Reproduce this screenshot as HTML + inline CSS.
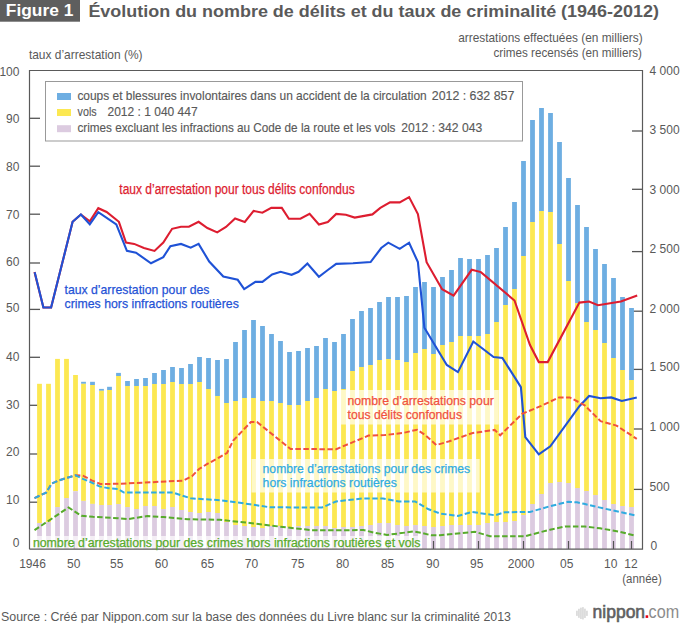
<!DOCTYPE html>
<html><head><meta charset="utf-8"><style>
html,body{margin:0;padding:0;background:#fff;}
svg{display:block;font-family:"Liberation Sans",sans-serif;}
</style></head><body>
<svg width="680" height="623" viewBox="0 0 680 623">
<rect width="680" height="623" fill="#fff"/>
<line x1="29.5" y1="118.3" x2="40" y2="118.3" stroke="#555" stroke-width="1.3"/>
<line x1="29.5" y1="166.2" x2="40" y2="166.2" stroke="#555" stroke-width="1.3"/>
<line x1="29.5" y1="214.2" x2="40" y2="214.2" stroke="#555" stroke-width="1.3"/>
<line x1="29.5" y1="263" x2="40" y2="263" stroke="#555" stroke-width="1.3"/>
<line x1="29.5" y1="309.4" x2="40" y2="309.4" stroke="#555" stroke-width="1.3"/>
<line x1="29.5" y1="357.3" x2="40" y2="357.3" stroke="#555" stroke-width="1.3"/>
<line x1="29.5" y1="405.3" x2="40" y2="405.3" stroke="#555" stroke-width="1.3"/>
<line x1="29.5" y1="454" x2="40" y2="454" stroke="#555" stroke-width="1.3"/>
<line x1="29.5" y1="502.2" x2="40" y2="502.2" stroke="#555" stroke-width="1.3"/>
<line x1="632" y1="131" x2="642.5" y2="131" stroke="#555" stroke-width="1.3"/>
<line x1="632" y1="189.3" x2="642.5" y2="189.3" stroke="#555" stroke-width="1.3"/>
<line x1="632" y1="251.6" x2="642.5" y2="251.6" stroke="#555" stroke-width="1.3"/>
<line x1="632" y1="311.2" x2="642.5" y2="311.2" stroke="#555" stroke-width="1.3"/>
<line x1="632" y1="369.4" x2="642.5" y2="369.4" stroke="#555" stroke-width="1.3"/>
<line x1="632" y1="429" x2="642.5" y2="429" stroke="#555" stroke-width="1.3"/>
<line x1="632" y1="489.4" x2="642.5" y2="489.4" stroke="#555" stroke-width="1.3"/>
<rect x="37.1" y="383.8" width="4.8" height="139.2" fill="#fce852"/>
<rect x="37.1" y="523" width="4.8" height="26" fill="#dccbe0"/>
<rect x="46.1" y="383.8" width="4.8" height="138.2" fill="#fce852"/>
<rect x="46.1" y="522" width="4.8" height="27" fill="#dccbe0"/>
<rect x="55.1" y="358.9" width="4.8" height="148.1" fill="#fce852"/>
<rect x="55.1" y="507" width="4.8" height="42" fill="#dccbe0"/>
<rect x="64.1" y="358.9" width="4.8" height="139.1" fill="#fce852"/>
<rect x="64.1" y="498" width="4.8" height="51" fill="#dccbe0"/>
<rect x="73.1" y="375" width="4.8" height="116.2" fill="#fce852"/>
<rect x="73.1" y="491.2" width="4.8" height="57.8" fill="#dccbe0"/>
<rect x="81.1" y="381.8" width="4.8" height="2" fill="#6eaee2"/>
<rect x="81.1" y="383.8" width="4.8" height="117.1" fill="#fce852"/>
<rect x="81.1" y="500.9" width="4.8" height="48.1" fill="#dccbe0"/>
<rect x="90.1" y="381.8" width="4.8" height="3.2" fill="#6eaee2"/>
<rect x="90.1" y="385" width="4.8" height="118.9" fill="#fce852"/>
<rect x="90.1" y="503.9" width="4.8" height="45.1" fill="#dccbe0"/>
<rect x="99.1" y="388.9" width="4.8" height="1.9" fill="#6eaee2"/>
<rect x="99.1" y="390.8" width="4.8" height="114.2" fill="#fce852"/>
<rect x="99.1" y="505" width="4.8" height="44" fill="#dccbe0"/>
<rect x="107.1" y="386.8" width="4.8" height="3.2" fill="#6eaee2"/>
<rect x="107.1" y="390" width="4.8" height="115" fill="#fce852"/>
<rect x="107.1" y="505" width="4.8" height="44" fill="#dccbe0"/>
<rect x="116.1" y="372.9" width="4.8" height="3.1" fill="#6eaee2"/>
<rect x="116.1" y="376" width="4.8" height="128" fill="#fce852"/>
<rect x="116.1" y="504" width="4.8" height="45" fill="#dccbe0"/>
<rect x="125.1" y="381" width="4.8" height="5" fill="#6eaee2"/>
<rect x="125.1" y="386" width="4.8" height="121" fill="#fce852"/>
<rect x="125.1" y="507" width="4.8" height="42" fill="#dccbe0"/>
<rect x="134.1" y="379" width="4.8" height="7" fill="#6eaee2"/>
<rect x="134.1" y="386" width="4.8" height="123" fill="#fce852"/>
<rect x="134.1" y="509" width="4.8" height="40" fill="#dccbe0"/>
<rect x="143.1" y="378" width="4.8" height="8" fill="#6eaee2"/>
<rect x="143.1" y="386" width="4.8" height="120" fill="#fce852"/>
<rect x="143.1" y="506" width="4.8" height="43" fill="#dccbe0"/>
<rect x="152.1" y="373" width="4.8" height="11" fill="#6eaee2"/>
<rect x="152.1" y="384" width="4.8" height="122" fill="#fce852"/>
<rect x="152.1" y="506" width="4.8" height="43" fill="#dccbe0"/>
<rect x="161.1" y="370" width="4.8" height="14" fill="#6eaee2"/>
<rect x="161.1" y="384" width="4.8" height="125" fill="#fce852"/>
<rect x="161.1" y="509" width="4.8" height="40" fill="#dccbe0"/>
<rect x="170.1" y="367" width="4.8" height="15" fill="#6eaee2"/>
<rect x="170.1" y="382" width="4.8" height="125" fill="#fce852"/>
<rect x="170.1" y="507" width="4.8" height="42" fill="#dccbe0"/>
<rect x="179.1" y="368" width="4.8" height="16" fill="#6eaee2"/>
<rect x="179.1" y="384" width="4.8" height="126" fill="#fce852"/>
<rect x="179.1" y="510" width="4.8" height="39" fill="#dccbe0"/>
<rect x="188.1" y="364" width="4.8" height="20" fill="#6eaee2"/>
<rect x="188.1" y="384" width="4.8" height="128" fill="#fce852"/>
<rect x="188.1" y="512" width="4.8" height="37" fill="#dccbe0"/>
<rect x="197.1" y="357" width="4.8" height="25" fill="#6eaee2"/>
<rect x="197.1" y="382" width="4.8" height="131" fill="#fce852"/>
<rect x="197.1" y="513" width="4.8" height="36" fill="#dccbe0"/>
<rect x="206.1" y="358" width="4.8" height="31" fill="#6eaee2"/>
<rect x="206.1" y="389" width="4.8" height="123" fill="#fce852"/>
<rect x="206.1" y="512" width="4.8" height="37" fill="#dccbe0"/>
<rect x="215.1" y="360" width="4.8" height="36" fill="#6eaee2"/>
<rect x="215.1" y="396" width="4.8" height="117" fill="#fce852"/>
<rect x="215.1" y="513" width="4.8" height="36" fill="#dccbe0"/>
<rect x="224.1" y="359" width="4.8" height="44" fill="#6eaee2"/>
<rect x="224.1" y="403" width="4.8" height="119" fill="#fce852"/>
<rect x="224.1" y="522" width="4.8" height="27" fill="#dccbe0"/>
<rect x="233.1" y="342" width="4.8" height="59" fill="#6eaee2"/>
<rect x="233.1" y="401" width="4.8" height="124" fill="#fce852"/>
<rect x="233.1" y="525" width="4.8" height="24" fill="#dccbe0"/>
<rect x="242.1" y="330" width="4.8" height="68" fill="#6eaee2"/>
<rect x="242.1" y="398" width="4.8" height="128" fill="#fce852"/>
<rect x="242.1" y="526" width="4.8" height="23" fill="#dccbe0"/>
<rect x="251.1" y="320" width="4.8" height="78" fill="#6eaee2"/>
<rect x="251.1" y="398" width="4.8" height="129" fill="#fce852"/>
<rect x="251.1" y="527" width="4.8" height="22" fill="#dccbe0"/>
<rect x="260.1" y="326" width="4.8" height="75" fill="#6eaee2"/>
<rect x="260.1" y="401" width="4.8" height="127" fill="#fce852"/>
<rect x="260.1" y="528" width="4.8" height="21" fill="#dccbe0"/>
<rect x="269.1" y="334" width="4.8" height="67" fill="#6eaee2"/>
<rect x="269.1" y="401" width="4.8" height="125" fill="#fce852"/>
<rect x="269.1" y="526" width="4.8" height="23" fill="#dccbe0"/>
<rect x="278.1" y="341" width="4.8" height="62" fill="#6eaee2"/>
<rect x="278.1" y="403" width="4.8" height="123" fill="#fce852"/>
<rect x="278.1" y="526" width="4.8" height="23" fill="#dccbe0"/>
<rect x="287.1" y="352" width="4.8" height="53" fill="#6eaee2"/>
<rect x="287.1" y="405" width="4.8" height="122" fill="#fce852"/>
<rect x="287.1" y="527" width="4.8" height="22" fill="#dccbe0"/>
<rect x="296.1" y="351" width="4.8" height="54" fill="#6eaee2"/>
<rect x="296.1" y="405" width="4.8" height="121" fill="#fce852"/>
<rect x="296.1" y="526" width="4.8" height="23" fill="#dccbe0"/>
<rect x="305.1" y="348" width="4.8" height="53" fill="#6eaee2"/>
<rect x="305.1" y="401" width="4.8" height="125" fill="#fce852"/>
<rect x="305.1" y="526" width="4.8" height="23" fill="#dccbe0"/>
<rect x="314.1" y="346" width="4.8" height="52" fill="#6eaee2"/>
<rect x="314.1" y="398" width="4.8" height="128" fill="#fce852"/>
<rect x="314.1" y="526" width="4.8" height="23" fill="#dccbe0"/>
<rect x="323.1" y="338" width="4.8" height="51" fill="#6eaee2"/>
<rect x="323.1" y="389" width="4.8" height="137" fill="#fce852"/>
<rect x="323.1" y="526" width="4.8" height="23" fill="#dccbe0"/>
<rect x="332.1" y="342" width="4.8" height="49" fill="#6eaee2"/>
<rect x="332.1" y="391" width="4.8" height="137" fill="#fce852"/>
<rect x="332.1" y="528" width="4.8" height="21" fill="#dccbe0"/>
<rect x="341.1" y="334" width="4.8" height="55" fill="#6eaee2"/>
<rect x="341.1" y="389" width="4.8" height="138" fill="#fce852"/>
<rect x="341.1" y="527" width="4.8" height="22" fill="#dccbe0"/>
<rect x="350.1" y="319" width="4.8" height="52" fill="#6eaee2"/>
<rect x="350.1" y="371" width="4.8" height="156" fill="#fce852"/>
<rect x="350.1" y="527" width="4.8" height="22" fill="#dccbe0"/>
<rect x="359.1" y="311" width="4.8" height="56" fill="#6eaee2"/>
<rect x="359.1" y="367" width="4.8" height="159" fill="#fce852"/>
<rect x="359.1" y="526" width="4.8" height="23" fill="#dccbe0"/>
<rect x="368.1" y="308" width="4.8" height="57" fill="#6eaee2"/>
<rect x="368.1" y="365" width="4.8" height="160" fill="#fce852"/>
<rect x="368.1" y="525" width="4.8" height="24" fill="#dccbe0"/>
<rect x="377.1" y="302" width="4.8" height="58" fill="#6eaee2"/>
<rect x="377.1" y="360" width="4.8" height="163" fill="#fce852"/>
<rect x="377.1" y="523" width="4.8" height="26" fill="#dccbe0"/>
<rect x="386.1" y="297" width="4.8" height="62" fill="#6eaee2"/>
<rect x="386.1" y="359" width="4.8" height="164" fill="#fce852"/>
<rect x="386.1" y="523" width="4.8" height="26" fill="#dccbe0"/>
<rect x="395.1" y="297" width="4.8" height="63" fill="#6eaee2"/>
<rect x="395.1" y="360" width="4.8" height="165" fill="#fce852"/>
<rect x="395.1" y="525" width="4.8" height="24" fill="#dccbe0"/>
<rect x="404.1" y="296" width="4.8" height="66" fill="#6eaee2"/>
<rect x="404.1" y="362" width="4.8" height="164" fill="#fce852"/>
<rect x="404.1" y="526" width="4.8" height="23" fill="#dccbe0"/>
<rect x="413.1" y="287" width="4.8" height="66" fill="#6eaee2"/>
<rect x="413.1" y="353" width="4.8" height="172" fill="#fce852"/>
<rect x="413.1" y="525" width="4.8" height="24" fill="#dccbe0"/>
<rect x="422.1" y="282" width="4.8" height="67" fill="#6eaee2"/>
<rect x="422.1" y="349" width="4.8" height="177" fill="#fce852"/>
<rect x="422.1" y="526" width="4.8" height="23" fill="#dccbe0"/>
<rect x="431.1" y="287" width="4.8" height="67" fill="#6eaee2"/>
<rect x="431.1" y="354" width="4.8" height="173" fill="#fce852"/>
<rect x="431.1" y="527" width="4.8" height="22" fill="#dccbe0"/>
<rect x="440.1" y="277" width="4.8" height="68" fill="#6eaee2"/>
<rect x="440.1" y="345" width="4.8" height="181" fill="#fce852"/>
<rect x="440.1" y="526" width="4.8" height="23" fill="#dccbe0"/>
<rect x="449.1" y="270" width="4.8" height="72" fill="#6eaee2"/>
<rect x="449.1" y="342" width="4.8" height="183" fill="#fce852"/>
<rect x="449.1" y="525" width="4.8" height="24" fill="#dccbe0"/>
<rect x="458.1" y="258" width="4.8" height="78" fill="#6eaee2"/>
<rect x="458.1" y="336" width="4.8" height="189" fill="#fce852"/>
<rect x="458.1" y="525" width="4.8" height="24" fill="#dccbe0"/>
<rect x="467.1" y="259" width="4.8" height="77" fill="#6eaee2"/>
<rect x="467.1" y="336" width="4.8" height="189" fill="#fce852"/>
<rect x="467.1" y="525" width="4.8" height="24" fill="#dccbe0"/>
<rect x="476.1" y="259" width="4.8" height="77" fill="#6eaee2"/>
<rect x="476.1" y="336" width="4.8" height="189" fill="#fce852"/>
<rect x="476.1" y="525" width="4.8" height="24" fill="#dccbe0"/>
<rect x="485.1" y="255" width="4.8" height="79" fill="#6eaee2"/>
<rect x="485.1" y="334" width="4.8" height="189" fill="#fce852"/>
<rect x="485.1" y="523" width="4.8" height="26" fill="#dccbe0"/>
<rect x="494.1" y="248" width="4.8" height="74" fill="#6eaee2"/>
<rect x="494.1" y="322" width="4.8" height="200" fill="#fce852"/>
<rect x="494.1" y="522" width="4.8" height="27" fill="#dccbe0"/>
<rect x="503.1" y="227" width="4.8" height="78" fill="#6eaee2"/>
<rect x="503.1" y="305" width="4.8" height="217" fill="#fce852"/>
<rect x="503.1" y="522" width="4.8" height="27" fill="#dccbe0"/>
<rect x="512.1" y="202" width="4.8" height="87" fill="#6eaee2"/>
<rect x="512.1" y="289" width="4.8" height="232" fill="#fce852"/>
<rect x="512.1" y="521" width="4.8" height="28" fill="#dccbe0"/>
<rect x="521.1" y="161" width="4.8" height="95" fill="#6eaee2"/>
<rect x="521.1" y="256" width="4.8" height="259" fill="#fce852"/>
<rect x="521.1" y="515" width="4.8" height="34" fill="#dccbe0"/>
<rect x="530.1" y="120" width="4.8" height="102" fill="#6eaee2"/>
<rect x="530.1" y="222" width="4.8" height="282" fill="#fce852"/>
<rect x="530.1" y="504" width="4.8" height="45" fill="#dccbe0"/>
<rect x="539.1" y="108" width="4.8" height="103" fill="#6eaee2"/>
<rect x="539.1" y="211" width="4.8" height="283" fill="#fce852"/>
<rect x="539.1" y="494" width="4.8" height="55" fill="#dccbe0"/>
<rect x="548.1" y="113" width="4.8" height="99" fill="#6eaee2"/>
<rect x="548.1" y="212" width="4.8" height="271" fill="#fce852"/>
<rect x="548.1" y="483" width="4.8" height="66" fill="#dccbe0"/>
<rect x="557.1" y="142" width="4.8" height="102" fill="#6eaee2"/>
<rect x="557.1" y="244" width="4.8" height="238" fill="#fce852"/>
<rect x="557.1" y="482" width="4.8" height="67" fill="#dccbe0"/>
<rect x="566.1" y="178" width="4.8" height="103" fill="#6eaee2"/>
<rect x="566.1" y="281" width="4.8" height="202" fill="#fce852"/>
<rect x="566.1" y="483" width="4.8" height="66" fill="#dccbe0"/>
<rect x="575.1" y="205" width="4.8" height="98" fill="#6eaee2"/>
<rect x="575.1" y="303" width="4.8" height="185" fill="#fce852"/>
<rect x="575.1" y="488" width="4.8" height="61" fill="#dccbe0"/>
<rect x="584.1" y="227" width="4.8" height="95" fill="#6eaee2"/>
<rect x="584.1" y="322" width="4.8" height="169" fill="#fce852"/>
<rect x="584.1" y="491" width="4.8" height="58" fill="#dccbe0"/>
<rect x="593.1" y="249" width="4.8" height="81" fill="#6eaee2"/>
<rect x="593.1" y="330" width="4.8" height="165" fill="#fce852"/>
<rect x="593.1" y="495" width="4.8" height="54" fill="#dccbe0"/>
<rect x="602.1" y="264" width="4.8" height="79" fill="#6eaee2"/>
<rect x="602.1" y="343" width="4.8" height="157" fill="#fce852"/>
<rect x="602.1" y="500" width="4.8" height="49" fill="#dccbe0"/>
<rect x="611.1" y="278" width="4.8" height="80" fill="#6eaee2"/>
<rect x="611.1" y="358" width="4.8" height="146" fill="#fce852"/>
<rect x="611.1" y="504" width="4.8" height="45" fill="#dccbe0"/>
<rect x="620.1" y="297" width="4.8" height="73" fill="#6eaee2"/>
<rect x="620.1" y="370" width="4.8" height="136" fill="#fce852"/>
<rect x="620.1" y="506" width="4.8" height="43" fill="#dccbe0"/>
<rect x="629.1" y="308" width="4.8" height="72" fill="#6eaee2"/>
<rect x="629.1" y="380" width="4.8" height="127" fill="#fce852"/>
<rect x="629.1" y="507" width="4.8" height="42" fill="#dccbe0"/>
<line x1="74.3" y1="541" x2="74.3" y2="549" stroke="#555" stroke-width="1.2"/>
<line x1="118.5" y1="541" x2="118.5" y2="549" stroke="#555" stroke-width="1.2"/>
<line x1="163.5" y1="541" x2="163.5" y2="549" stroke="#555" stroke-width="1.2"/>
<line x1="208.5" y1="541" x2="208.5" y2="549" stroke="#555" stroke-width="1.2"/>
<line x1="253.5" y1="541" x2="253.5" y2="549" stroke="#555" stroke-width="1.2"/>
<line x1="298.5" y1="541" x2="298.5" y2="549" stroke="#555" stroke-width="1.2"/>
<line x1="343.5" y1="541" x2="343.5" y2="549" stroke="#555" stroke-width="1.2"/>
<line x1="388.5" y1="541" x2="388.5" y2="549" stroke="#555" stroke-width="1.2"/>
<line x1="433.5" y1="541" x2="433.5" y2="549" stroke="#555" stroke-width="1.2"/>
<line x1="478.5" y1="541" x2="478.5" y2="549" stroke="#555" stroke-width="1.2"/>
<line x1="523.5" y1="541" x2="523.5" y2="549" stroke="#555" stroke-width="1.2"/>
<line x1="568.5" y1="541" x2="568.5" y2="549" stroke="#555" stroke-width="1.2"/>
<line x1="613.5" y1="541" x2="613.5" y2="549" stroke="#555" stroke-width="1.2"/>
<line x1="631.5" y1="541" x2="631.5" y2="549" stroke="#555" stroke-width="1.2"/>
<rect x="30" y="536" width="391.6" height="13" fill="#fff" fill-opacity="0.68"/>
<rect x="340.5" y="390" width="158.3" height="34.5" fill="#fff" fill-opacity="0.68"/>
<rect x="251.5" y="459" width="228.2" height="33.5" fill="#fff" fill-opacity="0.68"/>
<polyline points="34.5,272 43.4,307.5 51.1,307.5 72.6,221.8 80.9,214.5 89.8,221.4 98.3,208.2 106.6,212 118.9,221.8 126,242.6 134.2,243.9 143.9,247.9 154.5,250.9 163.3,242.6 172.1,228.8 181,226.7 188.9,226.7 198.6,221.8 207.4,228 217.2,232.4 226,227 235.1,218.5 244.8,222 253.6,210.9 262.4,212.7 271.3,207.9 281.8,207.9 288.9,218.8 300.4,218.8 309.6,213.9 318.9,224.5 327.8,222 336.2,213.9 345.9,214.8 354.7,217.6 372.4,214.4 380.3,207.9 390,202.4 399.7,202.4 409.1,197.1 417.9,214.1 426.6,262.2 442.1,289.2 453.6,295.6 471.7,269.8 480.9,272.1 514.5,300.5 530,345 538.8,362.1 547.7,362.1 579.4,302.6 589.1,301.5 598,305.2 620.9,301.5 637.2,295.5" fill="none" stroke="#dd1d30" stroke-width="2.1" stroke-linejoin="miter"/>
<polyline points="34.7,272.3 43.4,307.5 51.1,307.5 72.6,221.8 80.9,214.5 89.8,224.4 98.3,212.1 116.3,224.4 126.9,250.9 136,252.7 151,263.3 163.3,257.1 170.4,246.1 181,243.9 190.7,247.7 198.6,243.9 209.2,261.5 223.3,276.5 237.7,279.8 244.2,289.1 255.4,281.9 262.4,281.9 272.1,274.5 280.6,271.8 291.6,274.8 298.6,271.8 307.4,263.5 318.9,276.8 327.8,270 336.2,263.9 353,263.3 370.6,262.1 381.2,248 388.3,242.7 399.7,248.9 409.1,242.7 417.9,262.1 424.4,327.7 446.8,365 457.9,372.1 473.3,341.5 493.6,357.1 502.4,358 520.9,387.1 525.3,437.2 538.8,454.4 550.3,446.3 579.4,406.2 589.1,396 600.6,398.2 611.2,397.4 621.8,400.9 636.8,397.4" fill="none" stroke="#1f52d6" stroke-width="2.1" stroke-linejoin="miter"/>
<polyline points="34.5,530.2 68.5,507.5 81.5,515.8 93,516.8 118,518.2 127.8,519.2 147.2,516 163.4,517.1 187.7,519.2 220,519.8 250,523 283,527 312,530.2 340,530.3 363.5,530 374,532.6 387,534.9 399,533.4 413.5,531.5 422,532.9 431,535.3 440,535.3 475,531.8 490,536.2 525,536.2 550,529.7 565,526.5 585,526.5 600,528.3 620,531.8 636,535.9" fill="none" stroke="#57ab2b" stroke-width="2" stroke-dasharray="5.5 2.5"/>
<polyline points="34.5,498.1 46.1,492.6 51.8,483.5 58.3,480.6 65.6,478.2 75.7,475.3 82.9,475.7 91.6,480.3 100.3,484 120,483.8 183,480.6 192,476.2 199,469 206.5,464.4 220,457 227,453 233.2,440.6 250.9,422 257,422 290.6,449 336.2,449.2 368.5,435.6 384.7,435.1 404.1,432.7 417.1,429.7 425,434.8 436.3,445 449.3,441.3 471.9,433.2 494.6,429.9 500.2,435.3 522.1,413.8 540.6,406.2 559.1,397.4 569.7,397.4 584.7,405.3 600.6,421.2 616.5,425.6 636.8,438.9" fill="none" stroke="#f0513d" stroke-width="2" stroke-dasharray="5.5 2.5"/>
<polyline points="34.5,498.1 46.1,492.6 51.8,483.5 58.3,480.6 65.6,478.2 75.7,475.3 82.9,478.9 91.6,482.5 99.5,486.4 108.9,488.3 118,489 124,492.6 173,492.6 190.6,498.3 220,500.2 250,504.2 270,507.3 322,507.5 336,501.5 362,498.5 383,498.5 399,501.5 415,501.5 428,509 440,513.5 458,515.9 472,512 495,515.3 505,512.2 530,512 550,506.2 568,501.8 577,502.3 584,503.8 599,507.4 613.5,510.6 636.3,515.7" fill="none" stroke="#2fabe0" stroke-width="2" stroke-dasharray="5.5 2.5"/>
<polyline points="29.5,549.2 29.5,70.5 642.5,70.5 642.5,549.2 29.5,549.2" fill="none" stroke="#5a5a5a" stroke-width="1.2"/>
<rect x="45.5" y="81.5" width="477" height="59.5" fill="#fff" stroke="#999" stroke-width="1"/>
<rect x="57" y="93" width="14" height="7" fill="#6eaee2"/>
<rect x="57" y="109" width="14" height="7" fill="#fce852"/>
<rect x="57" y="125.2" width="14" height="7" fill="#dccbe0"/>
<text x="77.4" y="99.6" font-size="13" fill="#595959" font-weight="normal" text-anchor="start" textLength="349.3" lengthAdjust="spacingAndGlyphs" stroke="#595959" stroke-width="0.15">coups et blessures involontaires dans un accident de la circulation</text>
<text x="431.8" y="99.6" font-size="13" fill="#595959" font-weight="normal" text-anchor="start" textLength="82.5" lengthAdjust="spacingAndGlyphs" stroke="#595959" stroke-width="0.15">2012 : 632 857</text>
<text x="77.6" y="116.4" font-size="13" fill="#595959" font-weight="normal" text-anchor="start" textLength="19" lengthAdjust="spacingAndGlyphs" stroke="#595959" stroke-width="0.15">vols</text>
<text x="107.5" y="116.4" font-size="13" fill="#595959" font-weight="normal" text-anchor="start" textLength="90.1" lengthAdjust="spacingAndGlyphs" stroke="#595959" stroke-width="0.15">2012 : 1 040 447</text>
<text x="77.4" y="132.3" font-size="13" fill="#595959" font-weight="normal" text-anchor="start" textLength="318" lengthAdjust="spacingAndGlyphs" stroke="#595959" stroke-width="0.15">crimes excluant les infractions au Code de la route et les vols</text>
<text x="401.3" y="132.3" font-size="13" fill="#595959" font-weight="normal" text-anchor="start" textLength="80.9" lengthAdjust="spacingAndGlyphs" stroke="#595959" stroke-width="0.15">2012 : 342 043</text>
<text x="28.9" y="58.8" font-size="13.5" fill="#595959" font-weight="normal" text-anchor="start" textLength="113.6" lengthAdjust="spacingAndGlyphs">taux d’arrestation (%)</text>
<text x="642.6" y="42.3" font-size="13" fill="#595959" font-weight="normal" text-anchor="end" textLength="184.4" lengthAdjust="spacingAndGlyphs">arrestations effectuées (en milliers)</text>
<text x="642" y="57.1" font-size="13" fill="#595959" font-weight="normal" text-anchor="end" textLength="148.5" lengthAdjust="spacingAndGlyphs">crimes recensés (en milliers)</text>
<text x="19.4" y="75.5" font-size="12" fill="#595959" font-weight="normal" text-anchor="end">100</text>
<text x="19.4" y="123" font-size="12" fill="#595959" font-weight="normal" text-anchor="end">90</text>
<text x="19.4" y="170.9" font-size="12" fill="#595959" font-weight="normal" text-anchor="end">80</text>
<text x="19.4" y="218.7" font-size="12" fill="#595959" font-weight="normal" text-anchor="end">70</text>
<text x="19.4" y="266" font-size="12" fill="#595959" font-weight="normal" text-anchor="end">60</text>
<text x="19.4" y="312" font-size="12" fill="#595959" font-weight="normal" text-anchor="end">50</text>
<text x="19.4" y="360.5" font-size="12" fill="#595959" font-weight="normal" text-anchor="end">40</text>
<text x="19.4" y="408.5" font-size="12" fill="#595959" font-weight="normal" text-anchor="end">30</text>
<text x="19.4" y="456.3" font-size="12" fill="#595959" font-weight="normal" text-anchor="end">20</text>
<text x="19.4" y="504.1" font-size="12" fill="#595959" font-weight="normal" text-anchor="end">10</text>
<text x="19.4" y="546.9" font-size="12" fill="#595959" font-weight="normal" text-anchor="end">0</text>
<text x="649.6" y="74.6" font-size="12" fill="#595959" font-weight="normal" text-anchor="start" textLength="30" lengthAdjust="spacingAndGlyphs">4 000</text>
<text x="649.6" y="134.3" font-size="12" fill="#595959" font-weight="normal" text-anchor="start" textLength="30" lengthAdjust="spacingAndGlyphs">3 500</text>
<text x="649.6" y="193.8" font-size="12" fill="#595959" font-weight="normal" text-anchor="start" textLength="30" lengthAdjust="spacingAndGlyphs">3 000</text>
<text x="649.6" y="253.3" font-size="12" fill="#595959" font-weight="normal" text-anchor="start" textLength="30" lengthAdjust="spacingAndGlyphs">2 500</text>
<text x="649.6" y="312.5" font-size="12" fill="#595959" font-weight="normal" text-anchor="start" textLength="30" lengthAdjust="spacingAndGlyphs">2 000</text>
<text x="649.6" y="370.7" font-size="12" fill="#595959" font-weight="normal" text-anchor="start" textLength="30" lengthAdjust="spacingAndGlyphs">1 500</text>
<text x="649.6" y="431.3" font-size="12" fill="#595959" font-weight="normal" text-anchor="start" textLength="30" lengthAdjust="spacingAndGlyphs">1 000</text>
<text x="649.6" y="490.6" font-size="12" fill="#595959" font-weight="normal" text-anchor="start">500</text>
<text x="650.6" y="549.8" font-size="12" fill="#595959" font-weight="normal" text-anchor="start">0</text>
<text x="32.5" y="567.5" font-size="12" fill="#595959" font-weight="normal" text-anchor="middle">1946</text>
<text x="73.7" y="567.5" font-size="12" fill="#595959" font-weight="normal" text-anchor="middle">50</text>
<text x="116.8" y="567.5" font-size="12" fill="#595959" font-weight="normal" text-anchor="middle">55</text>
<text x="161.5" y="567.5" font-size="12" fill="#595959" font-weight="normal" text-anchor="middle">60</text>
<text x="207.4" y="567.5" font-size="12" fill="#595959" font-weight="normal" text-anchor="middle">65</text>
<text x="251.5" y="567.5" font-size="12" fill="#595959" font-weight="normal" text-anchor="middle">70</text>
<text x="297.7" y="567.5" font-size="12" fill="#595959" font-weight="normal" text-anchor="middle">75</text>
<text x="342.6" y="567.5" font-size="12" fill="#595959" font-weight="normal" text-anchor="middle">80</text>
<text x="387.6" y="567.5" font-size="12" fill="#595959" font-weight="normal" text-anchor="middle">85</text>
<text x="432.7" y="567.5" font-size="12" fill="#595959" font-weight="normal" text-anchor="middle">90</text>
<text x="476.8" y="567.5" font-size="12" fill="#595959" font-weight="normal" text-anchor="middle">95</text>
<text x="521.1" y="567.5" font-size="12" fill="#595959" font-weight="normal" text-anchor="middle">2000</text>
<text x="566.8" y="567.5" font-size="12" fill="#595959" font-weight="normal" text-anchor="middle">05</text>
<text x="610.7" y="567.5" font-size="12" fill="#595959" font-weight="normal" text-anchor="middle">10</text>
<text x="631" y="567.5" font-size="12" fill="#595959" font-weight="normal" text-anchor="middle">12</text>
<text x="642" y="583" font-size="12" fill="#595959" font-weight="normal" text-anchor="middle" textLength="39.4" lengthAdjust="spacingAndGlyphs">(année)</text>
<text x="119.3" y="193.6" font-size="14" fill="#dd1d30" font-weight="normal" text-anchor="start" textLength="235.4" lengthAdjust="spacingAndGlyphs" stroke="#dd1d30" stroke-width="0.25">taux d’arrestation pour tous délits confondus</text>
<text x="64.5" y="293.8" font-size="13.5" fill="#1f52d6" font-weight="normal" text-anchor="start" textLength="144.9" lengthAdjust="spacingAndGlyphs" stroke="#1f52d6" stroke-width="0.25">taux d’arrestation pour des</text>
<text x="64.5" y="308.2" font-size="13.5" fill="#1f52d6" font-weight="normal" text-anchor="start" textLength="174.3" lengthAdjust="spacingAndGlyphs" stroke="#1f52d6" stroke-width="0.25">crimes hors infractions routières</text>
<text x="347.5" y="404.7" font-size="12.5" fill="#f0513d" font-weight="normal" text-anchor="start" textLength="146.3" lengthAdjust="spacingAndGlyphs" stroke="#f0513d" stroke-width="0.25">nombre d’arrestations pour</text>
<text x="347.5" y="419.2" font-size="12.5" fill="#f0513d" font-weight="normal" text-anchor="start" textLength="114.5" lengthAdjust="spacingAndGlyphs" stroke="#f0513d" stroke-width="0.25">tous délits confondus</text>
<text x="262.6" y="472.8" font-size="13" fill="#2fabe0" font-weight="normal" text-anchor="start" textLength="207.6" lengthAdjust="spacingAndGlyphs" stroke="#2fabe0" stroke-width="0.25">nombre d’arrestations pour des crimes</text>
<text x="262.6" y="487.4" font-size="13" fill="#2fabe0" font-weight="normal" text-anchor="start" textLength="134.2" lengthAdjust="spacingAndGlyphs" stroke="#2fabe0" stroke-width="0.25">hors infractions routières</text>
<text x="32.9" y="547.1" font-size="12" fill="#57ab2b" font-weight="normal" text-anchor="start" textLength="387.5" lengthAdjust="spacingAndGlyphs" stroke="#57ab2b" stroke-width="0.25">nombre d’arrestations pour des crimes hors infractions routières et vols</text>
<rect x="0" y="0" width="80" height="21.7" fill="#5e5e5e"/>
<text x="5.8" y="15.5" font-size="16" fill="#fff" font-weight="bold" text-anchor="start" textLength="67.5" lengthAdjust="spacingAndGlyphs">Figure 1</text>
<text x="88.4" y="17.4" font-size="16" fill="#5a5a5a" font-weight="bold" text-anchor="start" textLength="570.5" lengthAdjust="spacingAndGlyphs">Évolution du nombre de délits et du taux de criminalité (1946-2012)</text>
<text x="1" y="620.9" font-size="12" fill="#595959" font-weight="normal" text-anchor="start" textLength="510" lengthAdjust="spacingAndGlyphs">Source : Créé par Nippon.com sur la base des données du Livre blanc sur la criminalité 2013</text>
<g><rect x="576.2" y="610.70" width="1.5" height="5.2" fill="#d4d4d4"/><rect x="578.2" y="608.80" width="1.5" height="9" fill="#d4d4d4"/><rect x="580.2" y="607.65" width="1.5" height="11.3" fill="#d4d4d4"/><rect x="582.2" y="607.15" width="1.5" height="12.3" fill="#d4d4d4"/><rect x="584.2" y="608.65" width="1.5" height="9.3" fill="#d4d4d4"/><rect x="586.2" y="610.70" width="1.5" height="5.2" fill="#d4d4d4"/></g>
<text x="592.6" y="617.9" font-size="17.5" fill="#606060" font-weight="normal" text-anchor="start" textLength="52.5" lengthAdjust="spacingAndGlyphs" stroke="#606060" stroke-width="0.6">nippon</text>
<rect x="645.6" y="615.3" width="2.6" height="2.6" fill="#e60012"/>
<text x="648.6" y="617.9" font-size="17.5" fill="#8c8c8c" font-weight="normal" text-anchor="start" textLength="30.5" lengthAdjust="spacingAndGlyphs">com</text>
</svg></body></html>
